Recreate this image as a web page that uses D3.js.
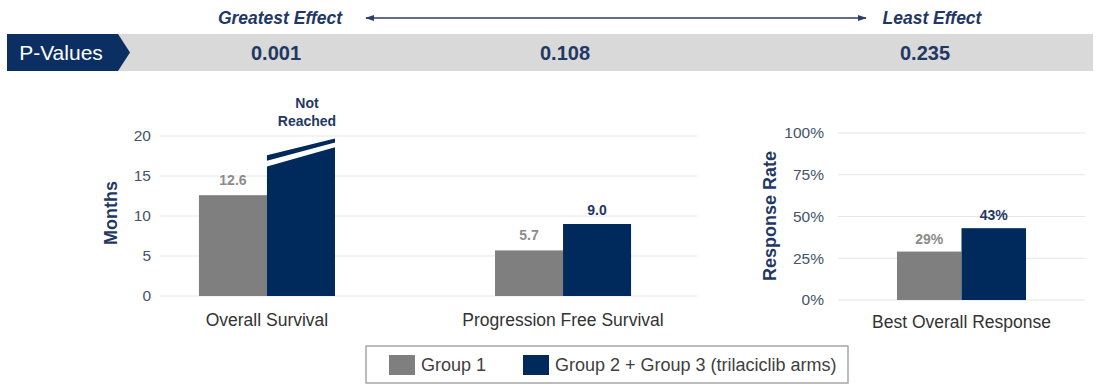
<!DOCTYPE html>
<html>
<head>
<meta charset="utf-8">
<script src="https://cdn.jsdelivr.net/npm/d3@7"></script>
<style>
  html, body { margin: 0; padding: 0; background: #fff; }
  svg { display: block; font-family: Arial, "Liberation Sans", sans-serif; }
</style>
</head>
<body>
<svg id="chart" width="1106" height="385"></svg>
<script>
// P-value banner
const pValues = ["0.001", "0.108", "0.235"];
const effectLabels = ["Greatest Effect", "Least Effect"];

// Survival panel (months)
const survivalCategories = ["Overall Survival", "Progression Free Survival"];
const group1Months = [12.6, 5.7];
const group23Months = [null, 9.0];           // OS median not reached
const survivalTicks = [0, 5, 10, 15, 20];
// Broken "not reached" bar: slanted body top (left, right) and cap strip [bottom, top] at each edge
const notReachedBody = [16.2, 18.6];
const notReachedCap = [[16.9, 17.6], [19.2, 19.7]];

// Response panel
const responseCategories = ["Best Overall Response"];
const group1Rate = [0.29];
const group23Rate = [0.43];
const responseTicks = [0, 0.25, 0.5, 0.75, 1];

const seriesNames = ["Group 1", "Group 2 + Group 3 (trilaciclib arms)"];

const GRAY = "#7f7f7f";
const NAVY = "#002a5c";
const TEXT_NAVY = "#1f3864";
const TICK = "#44546a";
const GRID = "#e6e6e6";

const svg = d3.select("#chart");

// ---------- header ----------
const header = svg.append("g");
const defs = svg.append("defs");
defs.append("marker").attr("id", "arrow").attr("viewBox", "0 0 10 10")
  .attr("refX", 9).attr("refY", 5).attr("markerWidth", 7).attr("markerHeight", 7)
  .attr("orient", "auto-start-reverse")
  .append("path").attr("d", "M0,1.5 L10,5 L0,8.5 Z").attr("fill", "#2f3b6b");

header.append("line").attr("x1", 366).attr("x2", 866).attr("y1", 18).attr("y2", 18)
  .attr("stroke", "#2f3b6b").attr("stroke-width", 1.3)
  .attr("marker-start", "url(#arrow)").attr("marker-end", "url(#arrow)");

header.selectAll("text.effect").data(effectLabels).join("text")
  .attr("class", "effect")
  .attr("x", (d, i) => i === 0 ? 280 : 932).attr("y", 24)
  .attr("text-anchor", "middle").attr("font-size", 17.5).attr("font-weight", "bold")
  .attr("font-style", "italic").attr("fill", TEXT_NAVY).text(d => d);

header.append("rect").attr("x", 7).attr("y", 34).attr("width", 1086).attr("height", 37)
  .attr("fill", "#d9d9d9");
header.append("path").attr("d", "M7,34 H118 L130,52.5 L118,71 H7 Z").attr("fill", "#0b2f63");
header.append("text").attr("x", 61).attr("y", 60).attr("text-anchor", "middle")
  .attr("font-size", 21).attr("fill", "#fff").text("P-Values");

// p-values sit above their panels' columns
const pPositions = [276, 565, 925];
header.selectAll("text.pval").data(pValues).join("text")
  .attr("class", "pval")
  .attr("x", (d, i) => pPositions[i]).attr("y", 60)
  .attr("text-anchor", "middle").attr("font-size", 20).attr("font-weight", "bold")
  .attr("fill", TEXT_NAVY).text(d => d);

// ---------- survival panel ----------
const yM = d3.scaleLinear().domain([0, 20]).range([296, 136]);
const xM = d3.scaleBand().domain(survivalCategories).range([119, 711])
  .paddingInner(0.5405).paddingOuter(0.27);
const xMi = d3.scaleBand().domain([0, 1]).range([0, xM.bandwidth()]);

const left = svg.append("g");
left.selectAll("line.grid").data(survivalTicks).join("line")
  .attr("x1", 160).attr("x2", 697).attr("y1", d => yM(d)).attr("y2", d => yM(d))
  .attr("stroke", GRID).attr("stroke-width", 1);

const yAxisL = left.append("g").attr("transform", "translate(151,0)")
  .call(d3.axisLeft(yM).tickValues(survivalTicks).tickSize(0).tickPadding(0));
yAxisL.select(".domain").remove();
yAxisL.selectAll("text").attr("font-size", 15.5).attr("fill", TICK)
  .attr("font-family", "Arial, 'Liberation Sans', sans-serif");

left.append("text").attr("transform", "translate(117,213) rotate(-90)")
  .attr("text-anchor", "middle").attr("font-size", 18).attr("font-weight", "bold")
  .attr("fill", TEXT_NAVY).text("Months");

// gray bars
left.selectAll("rect.g1").data(survivalCategories).join("rect")
  .attr("class", "g1")
  .attr("x", d => xM(d) + xMi(0)).attr("width", xMi.bandwidth())
  .attr("y", (d, i) => yM(group1Months[i])).attr("height", (d, i) => yM(0) - yM(group1Months[i]))
  .attr("fill", GRAY);
left.selectAll("text.g1").data(survivalCategories).join("text")
  .attr("class", "g1")
  .attr("x", d => xM(d) + xMi(0) + xMi.bandwidth() / 2)
  .attr("y", (d, i) => yM(group1Months[i]) - 10)
  .attr("text-anchor", "middle").attr("font-size", 14).attr("font-weight", "bold")
  .attr("fill", "#8c8c8c").text((d, i) => group1Months[i].toFixed(1));

// navy bars with known value
const reached = survivalCategories.map((c, i) => ({ c, v: group23Months[i] })).filter(d => d.v != null);
left.selectAll("rect.g2").data(reached).join("rect")
  .attr("class", "g2")
  .attr("x", d => xM(d.c) + xMi(1)).attr("width", xMi.bandwidth())
  .attr("y", d => yM(d.v)).attr("height", d => yM(0) - yM(d.v))
  .attr("fill", NAVY);
left.selectAll("text.g2").data(reached).join("text")
  .attr("class", "g2")
  .attr("x", d => xM(d.c) + xMi(1) + xMi.bandwidth() / 2)
  .attr("y", d => yM(d.v) - 9)
  .attr("text-anchor", "middle").attr("font-size", 14).attr("font-weight", "bold")
  .attr("fill", TEXT_NAVY).text(d => d.v.toFixed(1));

// broken "not reached" bar
const nrIndex = group23Months.findIndex(v => v == null);
const nrCat = survivalCategories[nrIndex];
const nx0 = xM(nrCat) + xMi(1), nx1 = nx0 + xMi.bandwidth();
left.append("path")
  .attr("d", `M${nx0},${yM(0)} L${nx0},${yM(notReachedBody[0])} L${nx1},${yM(notReachedBody[1])} L${nx1},${yM(0)} Z`)
  .attr("fill", NAVY);
left.append("path")
  .attr("d", `M${nx0},${yM(notReachedCap[0][0])} L${nx0},${yM(notReachedCap[0][1])} L${nx1},${yM(notReachedCap[1][1])} L${nx1},${yM(notReachedCap[1][0])} Z`)
  .attr("fill", NAVY);
const nrLabel = left.append("text").attr("text-anchor", "middle")
  .attr("font-size", 14).attr("font-weight", "bold").attr("fill", TEXT_NAVY);
nrLabel.append("tspan").attr("x", (nx0 + nx1) / 2 + 6).attr("y", 108).text("Not");
nrLabel.append("tspan").attr("x", (nx0 + nx1) / 2 + 6).attr("y", 126).text("Reached");

left.selectAll("text.cat").data(survivalCategories).join("text")
  .attr("class", "cat")
  .attr("x", d => xM(d) + xM.bandwidth() / 2).attr("y", 326)
  .attr("text-anchor", "middle").attr("font-size", 17.5).attr("fill", "#333")
  .text(d => d);

// ---------- response panel ----------
const yR = d3.scaleLinear().domain([0, 1]).range([300, 133]);
const xR = d3.scaleBand().domain(responseCategories).range([838, 1085])
  .paddingInner(0).paddingOuter(0.457);
const xRi = d3.scaleBand().domain([0, 1]).range([0, xR.bandwidth()]);

const right = svg.append("g");
right.selectAll("line.grid").data(responseTicks).join("line")
  .attr("x1", 838).attr("x2", 1085).attr("y1", d => yR(d)).attr("y2", d => yR(d))
  .attr("stroke", GRID).attr("stroke-width", 1);

const yAxisR = right.append("g").attr("transform", "translate(824,0)")
  .call(d3.axisLeft(yR).tickValues(responseTicks).tickFormat(d3.format(".0%")).tickSize(0).tickPadding(0));
yAxisR.select(".domain").remove();
yAxisR.selectAll("text").attr("font-size", 15.5).attr("fill", TICK)
  .attr("font-family", "Arial, 'Liberation Sans', sans-serif");

right.append("text").attr("transform", "translate(776,216) rotate(-90)")
  .attr("text-anchor", "middle").attr("font-size", 18).attr("font-weight", "bold")
  .attr("fill", TEXT_NAVY).text("Response Rate");

const respSeries = [group1Rate, group23Rate];
const respColors = [GRAY, NAVY];
const respLabelColors = ["#8c8c8c", TEXT_NAVY];
respSeries.forEach((vals, s) => {
  right.selectAll(`rect.r${s}`).data(responseCategories).join("rect")
    .attr("class", `r${s}`)
    .attr("x", d => xR(d) + xRi(s)).attr("width", xRi.bandwidth())
    .attr("y", (d, i) => yR(vals[i])).attr("height", (d, i) => yR(0) - yR(vals[i]))
    .attr("fill", respColors[s]);
  right.selectAll(`text.r${s}`).data(responseCategories).join("text")
    .attr("class", `r${s}`)
    .attr("x", d => xR(d) + xRi(s) + xRi.bandwidth() / 2)
    .attr("y", (d, i) => yR(vals[i]) - 8)
    .attr("text-anchor", "middle").attr("font-size", 14).attr("font-weight", "bold")
    .attr("fill", respLabelColors[s]).text((d, i) => d3.format(".0%")(vals[i]));
});

right.selectAll("text.cat").data(responseCategories).join("text")
  .attr("class", "cat")
  .attr("x", d => xR(d) + xR.bandwidth() / 2).attr("y", 328)
  .attr("text-anchor", "middle").attr("font-size", 17.5).attr("fill", "#333")
  .text(d => d);

// ---------- legend ----------
const legend = svg.append("g");
legend.append("rect").attr("x", 366).attr("y", 346).attr("width", 482).attr("height", 37)
  .attr("fill", "#fff").attr("stroke", "#a6a6a6").attr("stroke-width", 1.5);
const legendX = [389, 523];
const legendColors = [GRAY, NAVY];
seriesNames.forEach((name, i) => {
  legend.append("rect").attr("x", legendX[i]).attr("y", 355).attr("width", 26).attr("height", 20)
    .attr("fill", legendColors[i]);
  legend.append("text").attr("x", legendX[i] + 32).attr("y", 371)
    .attr("font-size", 18).attr("fill", "#404040").text(name);
});
</script>
</body>
</html>
